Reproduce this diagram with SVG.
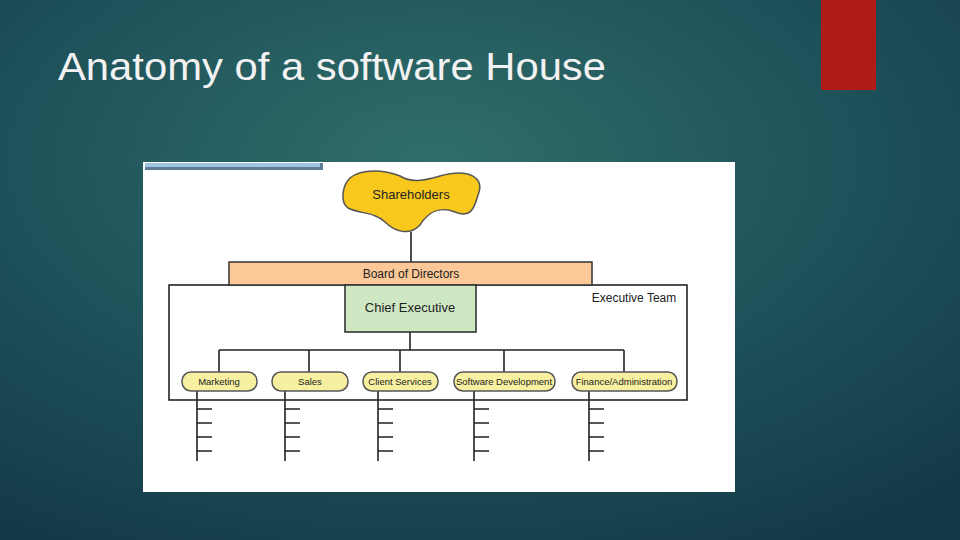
<svg xmlns="http://www.w3.org/2000/svg" width="960" height="540" viewBox="0 0 960 540">
<defs>
<radialGradient id="bg" cx="0.45" cy="0.3" r="0.8">
<stop offset="0" stop-color="#2f6e6a"/><stop offset="0.6" stop-color="#1d4f58"/><stop offset="1" stop-color="#143a48"/>
</radialGradient>
<style>
.l{stroke:#222;stroke-width:1.6;fill:none}
.pill{fill:#f7f0a0;stroke:#555;stroke-width:1.5}
.t{font-family:"Liberation Sans",Arial,sans-serif;fill:#222;text-anchor:middle}
</style>
</defs>
<rect width="960" height="540" fill="url(#bg)"/>
<rect x="821" y="0" width="55" height="90" fill="#b01a17"/>
<text x="58" y="80" font-family="Liberation Sans,Arial,sans-serif" font-size="39" fill="#f2f2f2" textLength="548" lengthAdjust="spacingAndGlyphs">Anatomy of a software House</text>
<rect x="143" y="162" width="592" height="330" fill="#fff"/>
<rect x="145" y="163" width="178" height="7" fill="#5d7d96"/>
<rect x="145" y="163" width="175" height="4" fill="#9fc3e0"/>
<g id="exec-team"><rect x="169" y="285" width="518" height="115" fill="#fff" stroke="#222" stroke-width="1.6"/>
<text class="t" x="634" y="302" font-size="12">Executive Team</text></g>
<g id="connectors">
<path class="l" d="M411 232V262M410 332V350M219 350H624M219 350V372M309 350V372M400 350V372M504 350V372M624 350V372"/>
<path class="l" d="M197 391V461M197 409h15M197 423h15M197 437h15M197 451h15"/>
<path class="l" d="M285 391V461M285 409h15M285 423h15M285 437h15M285 451h15"/>
<path class="l" d="M378 391V461M378 409h15M378 423h15M378 437h15M378 451h15"/>
<path class="l" d="M474 391V461M474 409h15M474 423h15M474 437h15M474 451h15"/>
<path class="l" d="M589 391V461M589 409h15M589 423h15M589 437h15M589 451h15"/>
</g>
<g id="shareholders"><path d="M350 178 C362 168 385 170 400 176 C410 182 420 182 440 176 C470 168 485 178 478 195 C474 210 470 218 455 212 C440 206 428 212 420 225 C410 236 395 232 385 222 C375 212 360 214 348 208 C340 202 342 186 350 178Z" fill="#f8c81c" stroke="#555" stroke-width="1.5"/>
<text class="t" x="411" y="199" font-size="13">Shareholders</text></g>
<g id="board"><rect x="229" y="262" width="363" height="23" fill="#fcc898" stroke="#333" stroke-width="1.5"/>
<text class="t" x="411" y="278" font-size="12">Board of Directors</text></g>
<g id="ceo"><rect x="345" y="285" width="131" height="47" fill="#cfe8c4" stroke="#333" stroke-width="1.6"/>
<text class="t" x="410" y="312" font-size="13">Chief Executive</text></g>
<g id="marketing"><rect class="pill" x="182" y="372" width="75" height="19" rx="9"/><text class="t" x="219" y="385" font-size="9.5">Marketing</text></g>
<g id="sales"><rect class="pill" x="272" y="372" width="76" height="19" rx="9"/><text class="t" x="310" y="385" font-size="9.5">Sales</text></g>
<g id="client"><rect class="pill" x="363" y="372" width="75" height="19" rx="9"/><text class="t" x="400" y="385" font-size="9.5">Client Services</text></g>
<g id="software"><rect class="pill" x="454" y="372" width="101" height="19" rx="9"/><text class="t" x="504" y="385" font-size="9.5">Software Development</text></g>
<g id="finance"><rect class="pill" x="572" y="372" width="105" height="19" rx="9"/><text class="t" x="624" y="385" font-size="9.5">Finance/Administration</text></g>
</svg>
